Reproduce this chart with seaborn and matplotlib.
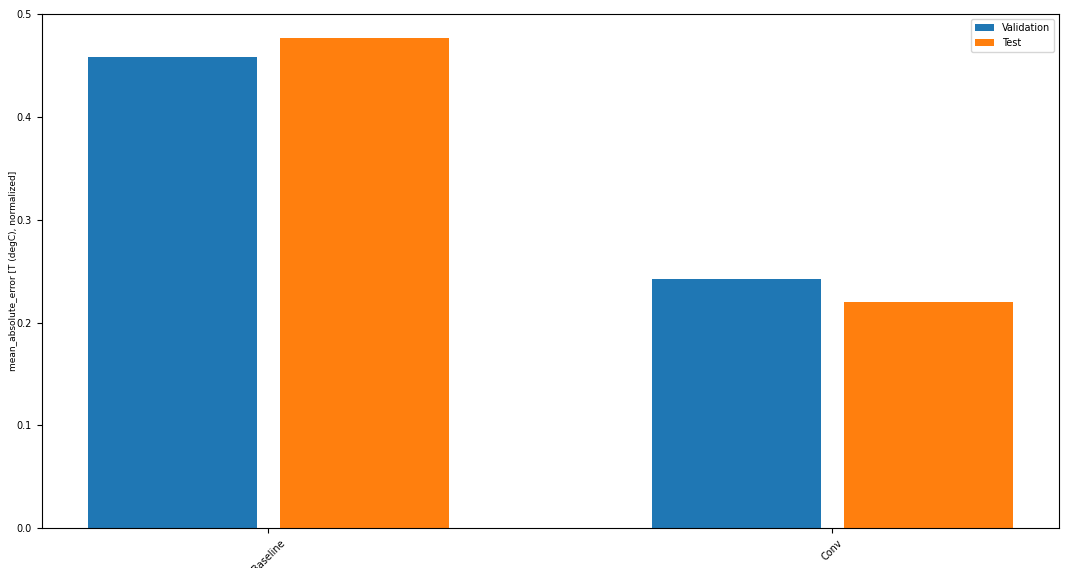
import pandas as pd
import seaborn as sns
import matplotlib.pyplot as plt

models = ["Baseline", "Conv"]
val_mae = [0.458, 0.242]
test_mae = [0.477, 0.220]
splits = ["Validation", "Test"]
metric_name = "mean_absolute_error [T (degC), normalized]"

df = pd.DataFrame({
    "model": models * 2,
    "split": [splits[0]] * len(models) + [splits[1]] * len(models),
    "mae": val_mae + test_mae,
})

plt.rcParams["font.size"] = 7
fig, ax = plt.subplots(figsize=(10.71, 5.68), dpi=100)
fig.subplots_adjust(left=0.039, right=0.989, bottom=0.07, top=0.975)

sns.barplot(data=df, x="model", y="mae", hue="split", order=models, hue_order=splits,
            palette=["#1f77b4", "#ff7f0e"], saturation=1, width=0.68, gap=0.1176,
            errorbar=None, ax=ax)

ax.set_xlim(-0.402, 1.402)
ax.set_ylim(0, 0.5)
ax.set_yticks([0, 0.1, 0.2, 0.3, 0.4, 0.5])
ax.set_yticklabels(["0.0", "0.1", "0.2", "0.3", "0.4", "0.5"])
plt.setp(ax.get_xticklabels(), rotation=45)
ax.set_xlabel("")
ax.set_ylabel(metric_name, fontsize=6.5)
ax.yaxis.set_label_coords(-0.0236, 0.5)
ax.legend(loc="upper right", title=None)

fig.savefig("out.png", dpi=100)
